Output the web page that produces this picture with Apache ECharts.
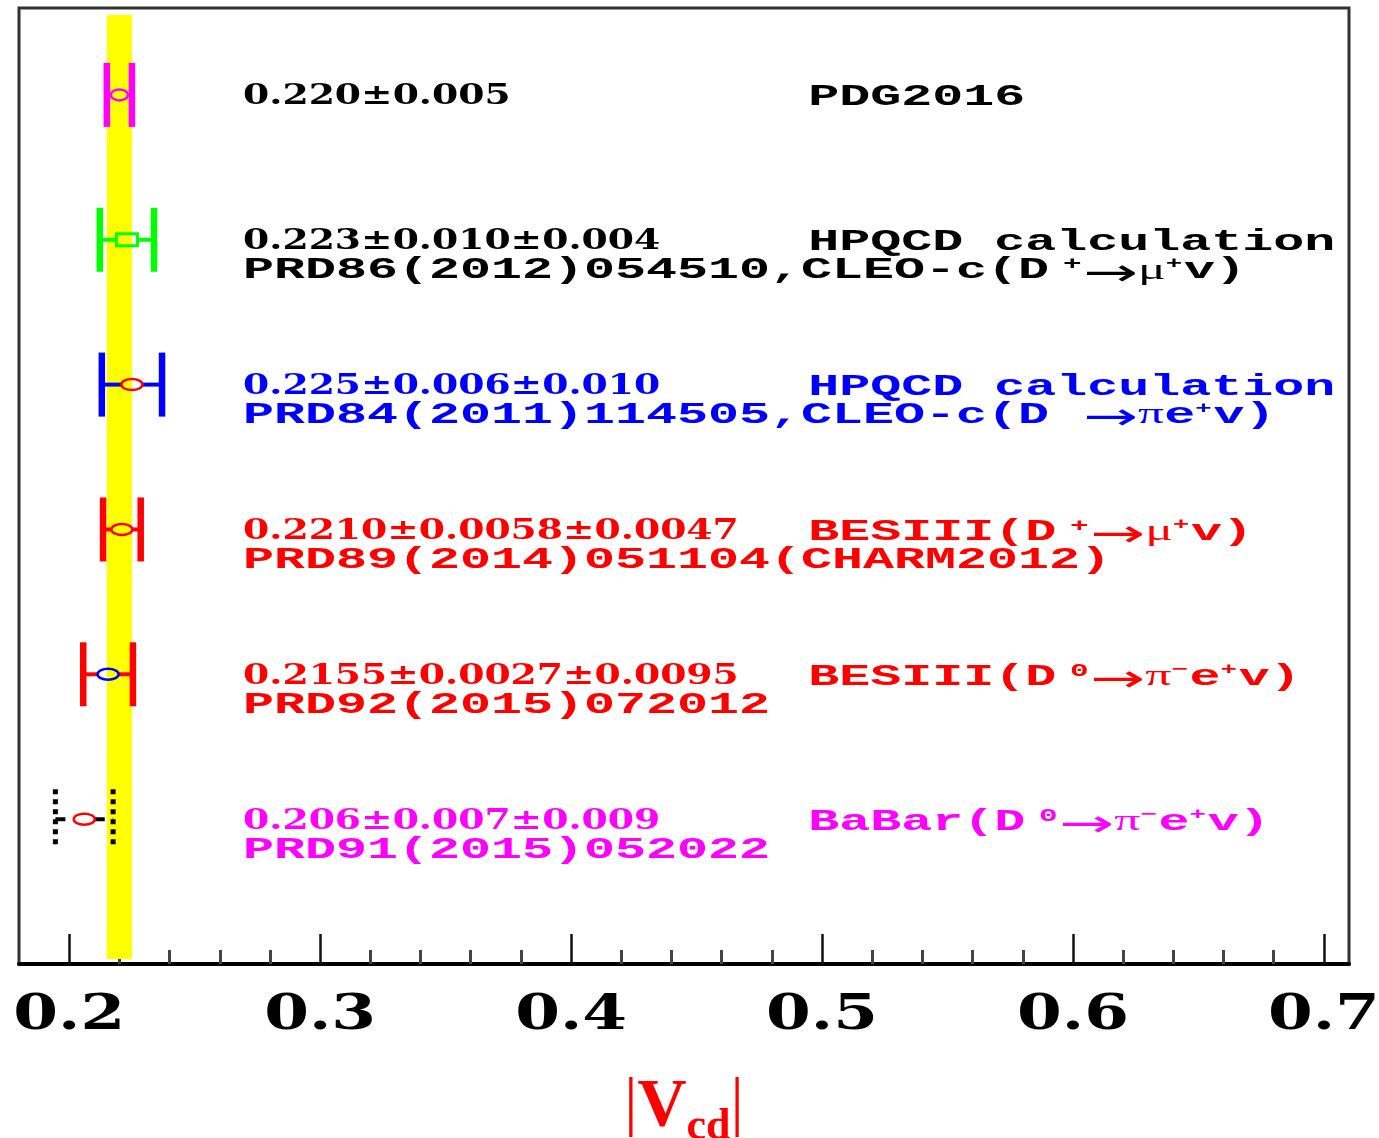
<!DOCTYPE html>
<html><head><meta charset="utf-8">
<script src="https://cdn.jsdelivr.net/npm/echarts@6/dist/echarts.min.js"></script>
<style>html,body{margin:0;padding:0;background:#fff}#c{width:1379px;height:1138px}</style>
</head><body><div id="c"></div>
<script>
// ---- data ----
const rowPositions = [6, 5, 4, 3, 2, 1];
const centralValues = [0.220, 0.223, 0.225, 0.2210, 0.2155, 0.206];
const totalErrors = [0.0050, 0.0108, 0.0120, 0.0075, 0.0099, 0.0115];
const resultLabels = ['0.220±0.005', '0.223±0.010±0.004', '0.225±0.006±0.010',
  '0.2210±0.0058±0.0047', '0.2155±0.0027±0.0095', '0.206±0.007±0.009'];
const referenceLabels = ['',
  'PRD86(2012)054510,CLEO-c(D{spp|+}{ar|→}{gr|μ}{su|+}v)',
  'PRD84(2011)114505,CLEO-c(D{sp0| }{ar|→}{gr|π}e{su|+}v)',
  'PRD89(2014)051104(CHARM2012)',
  'PRD92(2015)072012',
  'PRD91(2015)052022'];
const experimentLabels = ['PDG2016', 'HPQCD calculation', 'HPQCD calculation',
  'BESIII(D{spp|+}{ar|→}{gr|μ}{su|+}v)',
  'BESIII(D{sp0|0}{ar|→}{gr|π}{su|−}e{su|+}v)',
  'BaBar(D{sp0|0}{ar|→}{gr|π}{su|−}e{su|+}v)'];
const pdgAverage = [0.220, 0.005];
const xTickValues = [0.2, 0.3, 0.4, 0.5, 0.6, 0.7];
const xTickLabels = ['0.2', '0.3', '0.4', '0.5', '0.6', '0.7'];
const xMinorTickValues = [0.22, 0.24, 0.26, 0.28, 0.32, 0.34, 0.36, 0.38, 0.42, 0.44,
  0.46, 0.48, 0.52, 0.54, 0.56, 0.58, 0.62, 0.64, 0.66, 0.68];

// ---- styles ----
const barColors = ['#ff00ff', '#00ff00', '#0000ff', '#ff0000', '#ff0000', '#000000'];
const markerColors = ['#ff00ff', '#00ff00', '#ff0000', '#ff0000', '#0000ff', '#ff0000'];
const markerShapes = ['ellipse', 'rect', 'ellipse', 'ellipse', 'ellipse', 'ellipse'];
const markerSizes = [[17, 11], [21, 12], [21, 11], [21, 11], [21, 11], [21, 11]];
const dashedBars = [false, false, false, false, false, true];
const textColors = ['#000000', '#000000', '#0000ff', '#ff0000', '#ff0000', '#ff00ff'];
const LEFT_TEXT_X = 0.2693, RIGHT_TEXT_X = 0.4945;
const BAND_Y = [0.035, 6.552];
const MONO_SCALE = 1.722;

const monoRich = {
  spp: {fontFamily: 'Liberation Mono', fontWeight: 'bold', fontSize: 18, verticalAlign: 'top', lineHeight: 19, padding: [0, 1, 0, 8]},
  sp0: {fontFamily: 'Liberation Mono', fontWeight: 'bold', fontSize: 18, verticalAlign: 'top', lineHeight: 7, padding: [0, 1, 0, 8]},
  su: {fontFamily: 'Liberation Mono', fontWeight: 'bold', fontSize: 16, verticalAlign: 'top', lineHeight: 22, padding: [0, 1, 0, 0]},
  ar: {fontFamily: 'DejaVu Sans', fontSize: 38, verticalAlign: 'top', lineHeight: 24},
  gr: {fontFamily: 'Liberation Serif', fontSize: 30, verticalAlign: 'top', lineHeight: 26}
};

const chart = echarts.init(document.getElementById('c'));

function errorBarItem(params, api) {
  const i = api.value(3);
  const v = api.value(0), y = api.value(1), e = api.value(2);
  const c = api.coord([v, y]), lo = api.coord([v - e, y]), hi = api.coord([v + e, y]);
  const col = barColors[i], dash = dashedBars[i];
  const mw = markerSizes[i][0] / 2, mh = markerSizes[i][1] / 2;
  const hStyle = {stroke: col, lineWidth: 4, lineDash: dash ? [10, 8] : null, fill: null};
  const capStyle = {stroke: col, lineWidth: dash ? 5 : 6.5, lineDash: dash ? [5, 5] : null, fill: null};
  const capH = dash ? 30 : 32;
  const children = [
    {type: 'line', shape: {x1: lo[0], y1: c[1], x2: c[0] - mw, y2: c[1]}, style: hStyle},
    {type: 'line', shape: {x1: c[0] + mw, y1: c[1], x2: hi[0], y2: c[1]}, style: hStyle},
    {type: 'line', shape: {x1: lo[0], y1: c[1] - capH, x2: lo[0], y2: c[1] + capH}, style: capStyle},
    {type: 'line', shape: {x1: hi[0], y1: c[1] - capH, x2: hi[0], y2: c[1] + capH}, style: capStyle}
  ];
  if (markerShapes[i] === 'rect') {
    children.push({type: 'rect', shape: {x: c[0] - mw, y: c[1] - mh, width: mw * 2, height: mh * 2},
      style: {fill: 'transparent', stroke: markerColors[i], lineWidth: 3}});
  } else {
    children.push({type: 'ellipse', shape: {cx: c[0], cy: c[1], rx: mw, ry: mh},
      style: {fill: 'transparent', stroke: markerColors[i], lineWidth: 2.5}});
  }
  return {type: 'group', children};
}

function monoText(x, y, text, col) {
  return {type: 'text', x: x, y: y, scaleX: MONO_SCALE,
    style: {text: text, fill: col, font: 'bold 30px "Liberation Mono"', lineHeight: 30,
      align: 'left', verticalAlign: 'middle', rich: monoRich}};
}

function textItem(params, api) {
  const i = api.value(0);
  const y = rowPositions[i];
  const pl = api.coord([LEFT_TEXT_X, y]);
  const pr = api.coord([RIGHT_TEXT_X, y]);
  const col = textColors[i];
  const children = [
    {type: 'text', x: pl[0], y: pl[1] + 2.3, scaleX: 1.37,
      style: {text: resultLabels[i], fill: col, font: 'bold 27.5px "DejaVu Serif"', align: 'left', verticalAlign: 'middle'}},
    monoText(pr[0], pr[1] + 3, experimentLabels[i], col)
  ];
  if (referenceLabels[i]) children.push(monoText(pl[0], pl[1] + 31, referenceLabels[i], col));
  return {type: 'group', children};
}

const option = {
  animation: false,
  backgroundColor: '#ffffff',
  grid: {left: 19, right: 30, top: 8, bottom: 174, show: true, borderColor: '#333', borderWidth: 3,
    containLabel: false, outerBoundsMode: 'none'},
  xAxis: [{
    type: 'value', min: 0.18, max: 0.71, position: 'bottom',
    axisLine: {show: true, lineStyle: {color: '#000', width: 4}},
    axisTick: {show: true, inside: true, length: 30, customValues: xTickValues, lineStyle: {color: '#111', width: 2.5}},
    axisLabel: {show: false},
    splitLine: {show: false},
    name: '{b||}{v|V}{s|cd}{b||}',
    nameLocation: 'middle', nameGap: 109,
    nameTextStyle: {
      color: '#ff0000',
      rich: {
        b: {fontFamily: 'Liberation Serif', fontSize: 66, color: '#ff0000', lineHeight: 70, verticalAlign: 'top'},
        v: {fontFamily: 'Liberation Serif', fontWeight: 'bold', fontSize: 68, color: '#ff0000', lineHeight: 70, verticalAlign: 'top'},
        s: {fontFamily: 'Liberation Serif', fontWeight: 'bold', fontSize: 44, color: '#ff0000', lineHeight: 110}
      }
    }
  }, {
    type: 'value', min: 0.18, max: 0.71, position: 'bottom',
    axisLine: {show: false},
    axisTick: {show: true, inside: true, length: 14, customValues: xMinorTickValues, lineStyle: {color: '#444', width: 3}},
    axisLabel: {show: false},
    splitLine: {show: false}
  }],
  yAxis: {type: 'value', min: 0, max: 6.6, show: false},
  series: [
    {
      type: 'custom', name: 'PDG band', coordinateSystem: 'cartesian2d', z: 1,
      data: [[pdgAverage[0], pdgAverage[1]]], encode: {x: 0, y: 1},
      renderItem: (params, api) => {
        const v = api.value(0), e = api.value(1);
        const lt = api.coord([v - e, BAND_Y[1]]), rb = api.coord([v + e, BAND_Y[0]]);
        return {type: 'rect', shape: {x: lt[0], y: lt[1], width: rb[0] - lt[0], height: rb[1] - lt[1]},
          style: {fill: '#ffff00'}};
      }
    },
    {
      type: 'custom', name: 'measurements', coordinateSystem: 'cartesian2d', z: 3,
      data: centralValues.map((v, i) => [v, rowPositions[i], totalErrors[i], i]), encode: {x: 0, y: 1},
      renderItem: errorBarItem
    },
    {
      type: 'custom', name: 'texts', coordinateSystem: 'cartesian2d', z: 4,
      data: rowPositions.map((y, i) => [i]),
      renderItem: textItem
    },
    {
      type: 'custom', name: 'tick labels', coordinateSystem: 'cartesian2d', z: 4,
      data: xTickValues.map((v, i) => [v, 0, i]), encode: {x: 0, y: 1},
      renderItem: (params, api) => {
        const p = api.coord([api.value(0), api.value(1)]);
        const i = api.value(2);
        return {type: 'text', x: p[0], y: p[1] + 53, scaleX: 1.34,
          style: {text: xTickLabels[i], font: 'bold 48px "DejaVu Serif"', fill: '#000', align: 'center', verticalAlign: 'middle'}};
      }
    }
  ]
};
chart.setOption(option);
</script></body></html>
